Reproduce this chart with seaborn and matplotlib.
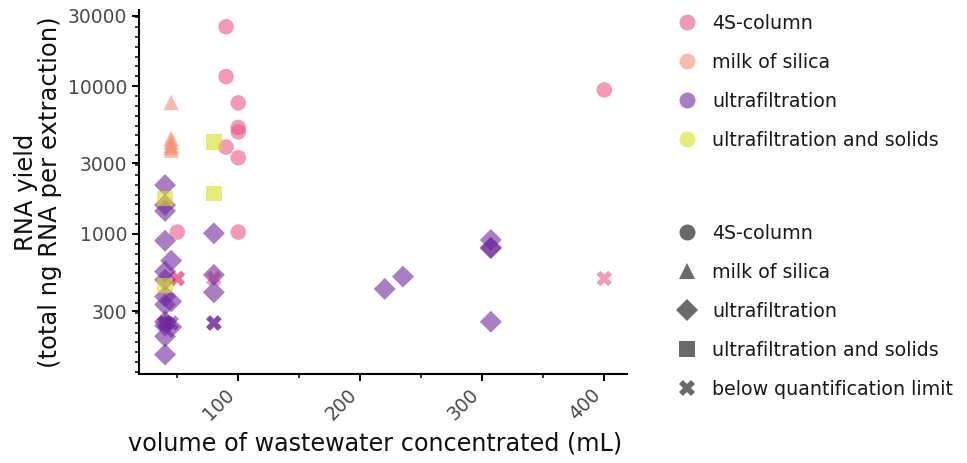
import numpy as np
import pandas as pd
import matplotlib
matplotlib.use("Agg")
import matplotlib.pyplot as plt
from matplotlib.lines import Line2D
from matplotlib.ticker import FixedLocator, NullFormatter, MultipleLocator, LogLocator, FuncFormatter
import seaborn as sns

# ---- data -------------------------------------------------------------
methods = ["4S-column", "milk of silica", "ultrafiltration", "ultrafiltration and solids"]
blq_label = "below quantification limit"
palette = ["#eb5785", "#f58f75", "#71289e", "#d9df1e"]
method_markers = ["o", "^", "D", "s"]
blq_marker = "X"

# 4S-column extractions (mL concentrated, total ng RNA)
col4s_volume = [90, 90, 100, 100, 100, 90, 100, 100, 50, 400]
col4s_yield = [25200, 11600, 7700, 5250, 4900, 3870, 3280, 1030, 1030, 9420]
col4s_blq_volume = [50, 50, 80, 400]
col4s_blq_yield = [500, 500, 500, 500]

# milk of silica extractions
mos_volume = [45, 45, 45, 45, 45, 45]
mos_yield = [7750, 4430, 4200, 3980, 3850, 3700]

# ultrafiltration extractions
uf_volume = [40, 40, 40, 40, 45, 40, 40, 40, 45, 40, 40, 40, 45, 40, 40,
             80, 80, 80, 220, 235, 307, 307, 307, 307]
uf_yield = [2140, 1570, 1430, 900, 660, 557, 490, 378, 350, 333, 255, 240, 235, 203, 153,
            1010, 529, 403, 425, 515, 911, 811, 800, 255]
uf_blq_volume = [40, 40, 45, 80, 80]
uf_blq_yield = [250, 250, 250, 250, 250]

# ultrafiltration and solids extractions
ufs_volume = [80, 80, 40, 40]
ufs_yield = [4180, 1880, 1740, 447]

y_ticks = [300, 1000, 3000, 10000, 30000]
x_ticks = [100, 200, 300, 400]


def frame(vol, rna, method, group):
    return pd.DataFrame({"volume": vol, "rna": rna, "method": method, "group": group})


df = pd.concat([
    frame(col4s_volume, col4s_yield, methods[0], methods[0]),
    frame(col4s_blq_volume, col4s_blq_yield, methods[0], blq_label),
    frame(mos_volume, mos_yield, methods[1], methods[1]),
    frame(uf_volume, uf_yield, methods[2], methods[2]),
    frame(uf_blq_volume, uf_blq_yield, methods[2], blq_label),
    frame(ufs_volume, ufs_yield, methods[3], methods[3]),
], ignore_index=True)

# ---- style --------------------------------------------------------------
sns.set_style("ticks")
plt.rcParams["font.family"] = ["DejaVu Sans"]

fig = plt.figure(figsize=(9.67, 4.63), dpi=100)
ax = fig.add_axes([0.1437, 0.1922, 0.5047, 0.7862])

style_order = methods + [blq_label]
marker_map = dict(zip(style_order, method_markers + [blq_marker]))

sns.scatterplot(data=df, x="volume", y="rna", hue="method", hue_order=methods,
                palette=palette, style="group", style_order=style_order,
                markers=marker_map, s=125, alpha=0.6, linewidth=0,
                legend=False, ax=ax)

ax.set_yscale("log")
ax.set_xlim(18.6, 418.6)
ax.set_ylim(113, 32700)

ax.yaxis.set_major_locator(FixedLocator(y_ticks))
ax.yaxis.set_major_formatter(FuncFormatter(lambda v, p: f"{v:.0f}"))
ax.yaxis.set_minor_locator(LogLocator(base=10 ** (1 / 15), subs=(1.0,), numticks=200))
ax.yaxis.set_minor_formatter(NullFormatter())

ax.xaxis.set_major_locator(FixedLocator(x_ticks))
ax.xaxis.set_minor_locator(MultipleLocator(50))

for side in ("top", "right"):
    ax.spines[side].set_visible(False)
for side in ("left", "bottom"):
    ax.spines[side].set_linewidth(1.5)
    ax.spines[side].set_color("black")

ax.tick_params(which="major", length=4.8, width=1.4, color="black",
               labelsize=13.5, labelcolor="#4a4a4a")
ax.tick_params(which="minor", length=2.6, width=1.1, color="black")
plt.setp(ax.get_xticklabels(), rotation=45, ha="right", rotation_mode="default")

ax.set_xlabel("volume of wastewater concentrated (mL)", fontsize=17.2, color="#111111")
ax.xaxis.set_label_coords(0.484, -0.158)
ax.set_ylabel("RNA yield\n(total ng RNA per extraction)", fontsize=17.5, color="#111111",
              linespacing=1.0)

# ---- legends -------------------------------------------------------------
hue_handles = [Line2D([], [], ls="", marker="o", markersize=11.5, color=c,
                      alpha=0.6, markeredgewidth=0) for c in palette]
style_handles = [Line2D([], [], ls="", marker=m, markersize=11.5, color="#6a6a6a",
                        markeredgewidth=0) for m in method_markers + [blq_marker]]

leg_kw = dict(loc="upper left", frameon=False, fontsize=13.7, handlelength=1.0,
              handletextpad=0.8, labelspacing=1.05, borderpad=0.4, borderaxespad=0,
              bbox_transform=fig.transFigure, labelcolor="#1a1a1a")
leg1 = ax.legend(hue_handles, methods, bbox_to_anchor=(0.693, 0.986), **leg_kw)
ax.add_artist(leg1)
ax.legend(style_handles, style_order, bbox_to_anchor=(0.693, 0.533), **leg_kw)

fig.savefig("out.png", dpi=100)
